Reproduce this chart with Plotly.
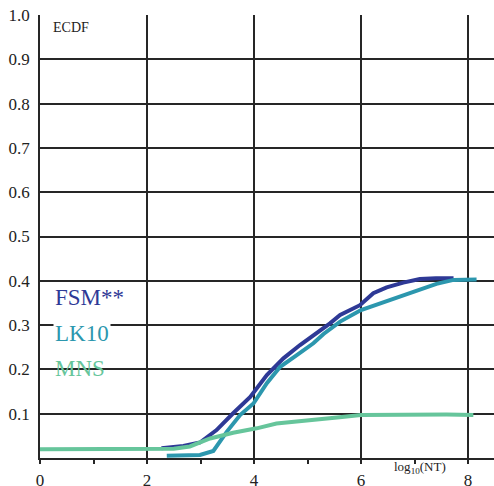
import plotly.graph_objects as go

# ECDF curves, x = log10(NT)
fsm_x = [2.27, 2.68, 2.99, 3.30, 3.61, 3.93, 4.24, 4.55, 4.86, 5.17, 5.42, 5.61, 5.98, 6.23, 6.48, 6.79, 7.10, 7.40, 7.73]
fsm_y = [0.022, 0.027, 0.035, 0.063, 0.101, 0.138, 0.187, 0.225, 0.255, 0.281, 0.304, 0.323, 0.345, 0.372, 0.385, 0.396, 0.404, 0.406, 0.406]

lk10_x = [2.37, 2.99, 3.24, 3.49, 3.74, 3.99, 4.24, 4.49, 4.80, 5.11, 5.30, 5.61, 6.00, 6.48, 6.98, 7.41, 7.73, 8.16]
lk10_y = [0.005, 0.007, 0.016, 0.059, 0.097, 0.123, 0.169, 0.206, 0.232, 0.259, 0.280, 0.308, 0.334, 0.355, 0.375, 0.393, 0.402, 0.403]

mns_x = [0.0, 1.0, 2.0, 2.50, 2.80, 3.18, 3.61, 4.05, 4.42, 4.86, 5.23, 5.60, 6.00, 6.50, 7.10, 7.60, 8.10]
mns_y = [0.020, 0.020, 0.020, 0.021, 0.026, 0.044, 0.057, 0.067, 0.078, 0.084, 0.087, 0.092, 0.097, 0.098, 0.0986, 0.098, 0.097]

series_names = ["FSM**", "LK10", "MNS"]
series_colors = ["#2e3996", "#2c97ae", "#66c59b"]

x_major = [0, 2, 4, 6, 8]
x_minor = [1, 3, 5, 7]
y_ticks = [0.1, 0.2, 0.3, 0.4, 0.5, 0.6, 0.7, 0.8, 0.9, 1.0]
y_labels = ["0.1", "0.2", "0.3", "0.4", "0.5", "0.6", "0.7", "0.8", "0.9", "1.0"]

FONT = "Times New Roman, Liberation Serif, serif"
GRID = "#262626"

fig = go.Figure()
for xs, ys, name, col in zip([fsm_x, lk10_x, mns_x], [fsm_y, lk10_y, mns_y], series_names, series_colors):
    fig.add_trace(go.Scatter(x=xs, y=ys, mode="lines", name=name,
                             line=dict(color=col, width=4), showlegend=False))

# series labels drawn inside the plot area
label_pos = [(0.243, 0.363), (0.243, 0.282), (0.243, 0.203)]
for (lx, ly), name, col in zip(label_pos, series_names, series_colors):
    ann = dict(x=lx, y=ly, xref="x", yref="y", text=name, showarrow=False,
               xanchor="left", yanchor="middle",
               font=dict(family=FONT, size=23, color=col))
    if name == "LK10":
        ann["bgcolor"] = "white"
    fig.add_annotation(**ann)

fig.add_annotation(x=0.2, y=0.971, xref="x", yref="y", text="ECDF", showarrow=False,
                   xanchor="left", yanchor="middle",
                   font=dict(family=FONT, size=14, color="#222"))
fig.add_annotation(x=7.10, y=-0.022, xref="x", yref="paper", text="log<sub>10</sub>(NT)",
                   showarrow=False, xanchor="center", yanchor="middle",
                   font=dict(family=FONT, size=13, color="#222"))

fig.update_layout(
    width=494, height=486,
    margin=dict(l=40, r=0, t=15, b=28, autoexpand=False),
    paper_bgcolor="white", plot_bgcolor="white",
    font=dict(family=FONT, size=17, color="#222"),
    xaxis=dict(range=[0, 8.486], tickvals=x_major, ticktext=[str(v) for v in x_major],
               showgrid=True, gridcolor=GRID, gridwidth=1.5,
               showline=True, linecolor=GRID, linewidth=1.5,
               ticks="outside", ticklen=4, tickcolor=GRID, tickwidth=1.5,
               ticklabelstandoff=2, automargin=False,
               minor=dict(tickvals=x_minor, ticks="outside", ticklen=4, tickcolor=GRID,
                          tickwidth=1.5, showgrid=False),
               zeroline=False, fixedrange=True),
    yaxis=dict(range=[0, 1.0], tickvals=y_ticks, ticktext=y_labels,
               showgrid=True, gridcolor=GRID, gridwidth=1.5,
               showline=True, linecolor=GRID, linewidth=1.5,
               ticks="", ticklabelstandoff=5, automargin=False,
               zeroline=False, fixedrange=True),
)

fig.write_html("out.html")
